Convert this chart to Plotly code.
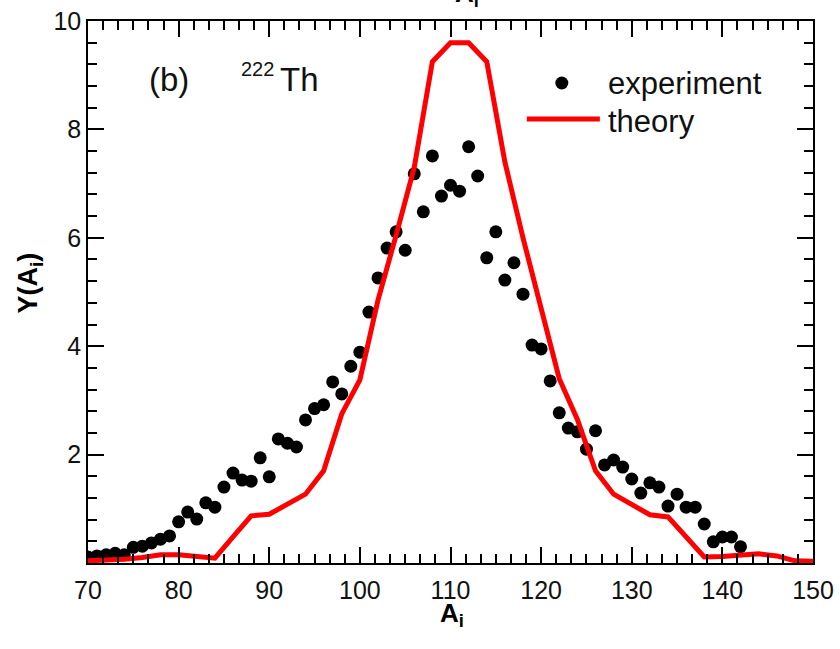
import plotly.graph_objects as go

# ---- data ----
exp_A = list(range(70, 143))
exp_Y = [0.11, 0.13, 0.15, 0.18, 0.15, 0.29, 0.31, 0.37, 0.44, 0.50,
         0.76, 0.94, 0.81, 1.11, 1.03, 1.40, 1.66, 1.53, 1.51, 1.94,
         1.59, 2.29, 2.21, 2.14, 2.64, 2.85, 2.92, 3.34, 3.12, 3.63,
         3.89, 4.63, 5.26, 5.81, 6.11, 5.77, 7.18, 6.48, 7.51, 6.77,
         6.97, 6.86, 7.68, 7.14, 5.63, 6.11, 5.22, 5.54, 4.96, 4.02,
         3.95, 3.36, 2.77, 2.49, 2.42, 2.10, 2.44, 1.81, 1.90, 1.77,
         1.55, 1.29, 1.48, 1.40, 1.05, 1.27, 1.03, 1.03, 0.72, 0.39,
         0.48, 0.48, 0.30]

theo_A = list(range(70, 151, 2))
theo_Y = [0.04, 0.05, 0.07, 0.10, 0.15, 0.15, 0.12, 0.09, 0.48, 0.87,
          0.90, 1.08, 1.27, 1.70, 2.75, 3.38, 4.85, 6.05, 7.30, 9.25,
          9.60, 9.60, 9.25, 7.40, 6.00, 4.70, 3.40, 2.65, 1.70, 1.27,
          1.08, 0.89, 0.85, 0.48, 0.11, 0.12, 0.15, 0.17, 0.13, 0.04,
          0.03]

x_ticks = [70, 80, 90, 100, 110, 120, 130, 140, 150]
y_ticks = [2, 4, 6, 8, 10]

FONT = "Liberation Sans, Arial, Helvetica, sans-serif"

fig = go.Figure()
fig.add_trace(go.Scatter(x=exp_A, y=exp_Y, mode="markers", name="experiment",
                         marker=dict(color="black", size=13), showlegend=False))
fig.add_trace(go.Scatter(x=theo_A, y=theo_Y, mode="lines", name="theory",
                         line=dict(color="#ff0000", width=5), showlegend=False))

axis_common = dict(showline=True, linecolor="black", linewidth=1.5, mirror="ticks",
                   ticks="inside", tickcolor="black", tickwidth=1.5, ticklen=16,
                   showgrid=False, zeroline=False, automargin=False,
                   tickfont=dict(family=FONT, size=25, color="#111"))

fig.update_xaxes(range=[70, 150], tickvals=x_ticks, ticklabelstandoff=4,
                 minor=dict(dtick=10/6, tick0=70, ticks="inside", ticklen=9,
                            tickwidth=1.5, tickcolor="black", showgrid=False),
                 **axis_common)
fig.update_yaxes(range=[0, 10], tickvals=y_ticks,
                 minor=dict(dtick=0.4, tick0=0, ticks="inside", ticklen=9,
                            tickwidth=1.5, tickcolor="black", showgrid=False),
                 **axis_common)

def px(xp):
    return (xp - 88.5) / 724.5

def py(yp):
    return (563 - yp) / 542

anns = [
    dict(text="(b)", x=px(147), y=py(80), xanchor="left", size=33),
    dict(text="222", x=px(239), y=py(69), xanchor="left", size=20),
    dict(text="Th", x=px(278), y=py(79), xanchor="left", size=33),
    dict(text="experiment", x=px(606), y=py(84), xanchor="left", size=31),
    dict(text="theory", x=px(606), y=py(121), xanchor="left", size=31),
]
for a in anns:
    fig.add_annotation(text=a["text"], x=a["x"], y=a["y"], xref="paper", yref="paper",
                       xanchor=a["xanchor"], yanchor="middle", showarrow=False,
                       font=dict(family=FONT, size=a["size"], color="#111"))

# axis titles
fig.add_annotation(text="<b>A<sub>i</sub></b>", x=px(452), y=py(614), xref="paper", yref="paper",
                   xanchor="center", yanchor="middle", showarrow=False,
                   font=dict(family=FONT, size=26, color="black"))
fig.add_annotation(text="<b>Y(A<sub>i</sub>)</b>", x=px(31), y=py(283), xref="paper", yref="paper",
                   xanchor="center", yanchor="middle", showarrow=False, textangle=-90,
                   font=dict(family=FONT, size=27, color="black"))

# clipped title of the panel above
fig.add_annotation(text="<b>A<sub>i</sub></b>", x=px(467), y=py(13), xref="paper", yref="paper",
                   xanchor="center", yanchor="bottom", showarrow=False,
                   font=dict(family=FONT, size=26, color="black"))

# legend symbols
r_x, r_y = 6.5 / 724.5, 6.5 / 542
fig.add_shape(type="circle", xref="paper", yref="paper",
              x0=px(562) - r_x, x1=px(562) + r_x, y0=py(83) - r_y, y1=py(83) + r_y,
              fillcolor="black", line=dict(color="black", width=0))
fig.add_shape(type="line", xref="paper", yref="paper",
              x0=px(527), x1=px(600), y0=py(119), y1=py(119),
              line=dict(color="#ff0000", width=5))

fig.update_layout(width=840, height=649, margin=dict(l=88, r=27, t=21, b=86),
                  plot_bgcolor="white", paper_bgcolor="white",
                  font=dict(family=FONT, color="black"), showlegend=False)

fig.write_html("out.html")
